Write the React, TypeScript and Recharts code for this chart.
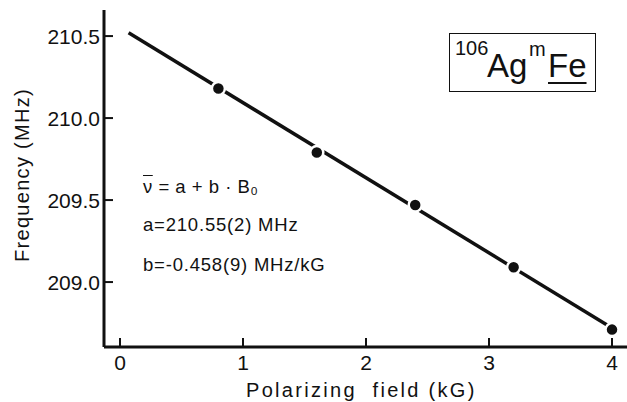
import React from "react";
import { ComposedChart, Line, Scatter, XAxis, YAxis } from "recharts";

// measured points (kG, MHz)
const fieldKG = [0.8, 1.6, 2.4, 3.2, 4.0];
const freqMHz = [210.18, 209.79, 209.47, 209.09, 208.71];

// fitted line at its two ends
const fitField = [0.07, 4.0];
const fitFreq = [210.52, 208.72];

const xTicks = [0, 1, 2, 3, 4];
const yTicks = [209.0, 209.5, 210.0, 210.5];

const points = fieldKG.map((x, i) => ({ x, y: freqMHz[i] }));
const fit = fitField.map((x, i) => ({ x, y: fitFreq[i] }));

const INK = "#111";
const FONT = "'Liberation Sans', Arial, sans-serif";
const TL = 9; // inward tick length

const Dot = (props: any) => (
  <circle cx={props.cx} cy={props.cy} r={6.5} fill={INK} stroke="#fff" strokeWidth={2.5} />
);

// ticks drawn by hand so the marks point into the frame while labels stay outside
const BottomTick = (p: any) => (
  <g>
    <line x1={p.x} y1={p.y} x2={p.x} y2={p.y - TL} stroke={INK} strokeWidth={2} />
    <text x={p.x} y={p.y + 23} textAnchor="middle" fontSize={21} fontFamily={FONT} fill={INK}>
      {p.payload.value}
    </text>
  </g>
);
const TopTick = (p: any) => (
  <line x1={p.x} y1={p.y} x2={p.x} y2={p.y + TL} stroke={INK} strokeWidth={2} />
);
const LeftTick = (p: any) => (
  <g>
    <line x1={p.x} y1={p.y} x2={p.x + TL} y2={p.y} stroke={INK} strokeWidth={2} />
    <text x={p.x - 4} y={p.y + 7.5} textAnchor="end" fontSize={21} fontFamily={FONT} fill={INK}>
      {Number(p.payload.value).toFixed(1)}
    </text>
  </g>
);
const RightTick = (p: any) => (
  <line x1={p.x} y1={p.y} x2={p.x - TL} y2={p.y} stroke={INK} strokeWidth={2} />
);

const txt = (left: number, baseline: number, fs: number, extra: React.CSSProperties = {}): React.CSSProperties => ({
  position: "absolute",
  left,
  top: baseline - 0.8465 * fs,
  fontSize: fs,
  lineHeight: `${fs}px`,
  whiteSpace: "nowrap",
  fontFamily: FONT,
  color: INK,
  ...extra,
});

export default function App() {
  const axisLine = { stroke: INK, strokeWidth: 3 };
  return (
    <div style={{ position: "absolute", left: 0, top: 0, width: 627, height: 402, overflow: "hidden", background: "#fff" }}>
      <ComposedChart width={640} height={402} margin={{ top: 10, right: 11, bottom: 0, left: 0 }}>
        <XAxis
          xAxisId="b"
          dataKey="x"
          type="number"
          domain={[-0.13, 4.138]}
          ticks={xTicks}
          allowDataOverflow
          height={55}
          tickSize={0}
          tickMargin={0}
          tick={BottomTick}
          tickLine={false}
          axisLine={axisLine}
        />
        <XAxis
          xAxisId="t"
          orientation="top"
          type="number"
          domain={[-0.13, 4.138]}
          ticks={xTicks}
          allowDataOverflow
          height={0}
          tickSize={0}
          tickMargin={0}
          tick={TopTick}
          tickLine={false}
          axisLine={axisLine}
        />
        <YAxis
          yAxisId="l"
          type="number"
          domain={[208.604, 210.659]}
          ticks={yTicks}
          allowDataOverflow
          width={104}
          tickSize={0}
          tickMargin={0}
          tick={LeftTick}
          tickLine={false}
          axisLine={axisLine}
        />
        <YAxis
          yAxisId="r"
          orientation="right"
          type="number"
          domain={[208.604, 210.659]}
          ticks={yTicks}
          allowDataOverflow
          width={0}
          tickSize={0}
          tickMargin={0}
          tick={RightTick}
          tickLine={false}
          axisLine={axisLine}
        />
        <Line
          xAxisId="b"
          yAxisId="l"
          data={fit}
          dataKey="y"
          type="linear"
          stroke={INK}
          strokeWidth={3.5}
          dot={false}
          activeDot={false}
          isAnimationActive={false}
        />
        <Scatter
          xAxisId="b"
          yAxisId="l"
          data={points}
          dataKey="y"
          shape={Dot}
          isAnimationActive={false}
        />
      </ComposedChart>

      <div
        style={{
          position: "absolute",
          left: 22,
          top: 175,
          transform: "translate(-50%, -50%) rotate(-90deg)",
          fontSize: 20,
          lineHeight: "20px",
          letterSpacing: 1.3,
          whiteSpace: "nowrap",
          fontFamily: FONT,
          color: INK,
        }}
      >
        Frequency (MHz)
      </div>
      <div style={txt(246, 397, 20, { letterSpacing: 2.3 })}>Polarizing&nbsp; field (kG)</div>

      <div style={txt(143, 194, 18.5, { letterSpacing: 0.5 })}>
        <span style={{ textDecoration: "overline" }}>ν</span> = a + b · B₀
      </div>
      <div style={txt(143, 232, 18.5, { letterSpacing: 0.8 })}>a=210.55(2) MHz</div>
      <div style={txt(143, 272, 18.5, { letterSpacing: 0.8 })}>b=-0.458(9) MHz/kG</div>

      <div style={{ position: "absolute", left: 449, top: 33, width: 145, height: 57, border: `1.5px solid ${INK}` }} />
      <div style={txt(455, 55, 20)}>106</div>
      <div style={txt(487, 77, 33)}>Ag</div>
      <div style={txt(529, 55.5, 20)}>m</div>
      <div style={txt(548, 77, 33, { textDecoration: "underline", textUnderlineOffset: 5, textDecorationThickness: 2 })}>Fe</div>
    </div>
  );
}
